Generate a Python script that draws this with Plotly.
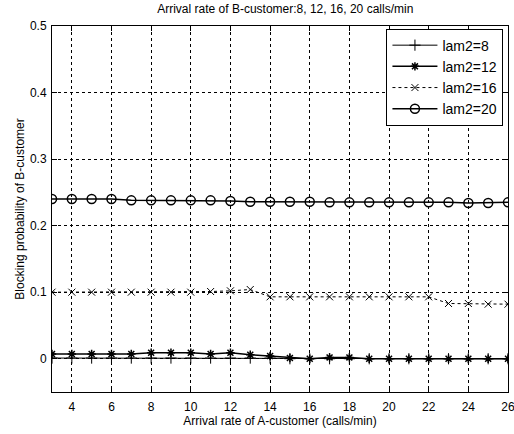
import plotly.graph_objects as go

x_rate = list(range(3, 27))
lam8 = [0.001, 0.001, 0.001, 0.001, 0.001, 0.001, 0.001, 0.001, 0.001, 0.001, 0.001, 0.001,
        0.0, 0.0, 0.0, 0.0, 0.0, 0.0, 0.0, 0.0, 0.0, 0.0, 0.0, 0.0]
lam12 = [0.007, 0.007, 0.007, 0.007, 0.007, 0.009, 0.009, 0.009, 0.007, 0.009, 0.006, 0.004,
         0.001, 0.0, 0.002, 0.002, 0.0, 0.0, 0.0, 0.0, 0.0, 0.0, 0.0, 0.0]
lam16 = [0.100, 0.100, 0.100, 0.100, 0.100, 0.100, 0.100, 0.100, 0.101, 0.102, 0.104, 0.093,
         0.093, 0.093, 0.093, 0.093, 0.093, 0.093, 0.093, 0.093, 0.083, 0.083, 0.082, 0.082]
lam20 = [0.240, 0.240, 0.240, 0.240, 0.238, 0.238, 0.238, 0.238, 0.238, 0.237, 0.236, 0.236,
         0.236, 0.236, 0.235, 0.235, 0.235, 0.235, 0.235, 0.235, 0.235, 0.234, 0.234, 0.235]
x_ticks = list(range(4, 27, 2))
y_ticks = [0, 0.1, 0.2, 0.3, 0.4, 0.5]
y_tick_labels = ["0", "0.1", "0.2", "0.3", "0.4", "0.5"]

fig = go.Figure()
fig.add_trace(go.Scatter(x=x_rate, y=lam8, name="lam2=8", mode="lines+markers",
                         line=dict(color="black", width=1),
                         marker=dict(symbol="cross-thin-open", size=8, color="black",
                                     line=dict(color="black", width=1))))
fig.add_trace(go.Scatter(x=x_rate, y=lam12, name="lam2=12", mode="lines+markers",
                         line=dict(color="black", width=1.5),
                         marker=dict(symbol="asterisk-open", size=7, color="black",
                                     line=dict(color="black", width=1.5))))
fig.add_trace(go.Scatter(x=x_rate, y=lam16, name="lam2=16", mode="lines+markers",
                         line=dict(color="black", width=1, dash="dot"),
                         marker=dict(symbol="x-thin-open", size=7, color="black",
                                     line=dict(color="black", width=1))))
fig.add_trace(go.Scatter(x=x_rate, y=lam20, name="lam2=20", mode="lines+markers",
                         line=dict(color="black", width=1.5),
                         marker=dict(symbol="circle-open", size=9, color="black",
                                     line=dict(color="black", width=1.5))))

axis_common = dict(showline=True, linecolor="black", linewidth=1, mirror="ticks",
                   ticks="inside", ticklen=5, tickcolor="black", showgrid=True,
                   gridcolor="black", gridwidth=1, griddash="3px,3px", zeroline=False,
                   automargin=False, tickfont=dict(size=12, color="black"))

fig.update_layout(
    width=514, height=434,
    margin=dict(l=52, r=6, t=26, b=42),
    paper_bgcolor="white", plot_bgcolor="white",
    font=dict(family="Liberation Sans, Arial, sans-serif", size=12, color="black"),
    title=dict(text="Arrival rate of B-customer:8, 12, 16, 20 calls/min", x=0.555,
               xanchor="center", y=0.99, yanchor="top", font=dict(size=12)),
    xaxis=dict(range=[3, 26], tickvals=x_ticks, ticklabeloverflow="allow",
               ticklabelstandoff=4,
               title=dict(text="Arrival rate of A-customer (calls/min)", standoff=3,
                          font=dict(size=12)), **axis_common),
    yaxis=dict(range=[-0.05, 0.5], tickvals=y_ticks, ticktext=y_tick_labels,
               ticklabelstandoff=2,
               title=dict(text="Blocking probability of B-customer", standoff=2,
                          font=dict(size=12)), **axis_common),
    legend=dict(x=0.99, y=0.993, xanchor="right", yanchor="top", bgcolor="white",
                bordercolor="black", borderwidth=1, font=dict(size=14),
                tracegroupgap=0, itemwidth=45),
    showlegend=True,
)

fig.write_html("out.html", config={"displayModeBar": False},
               post_script="document.body.style.margin='0';")
